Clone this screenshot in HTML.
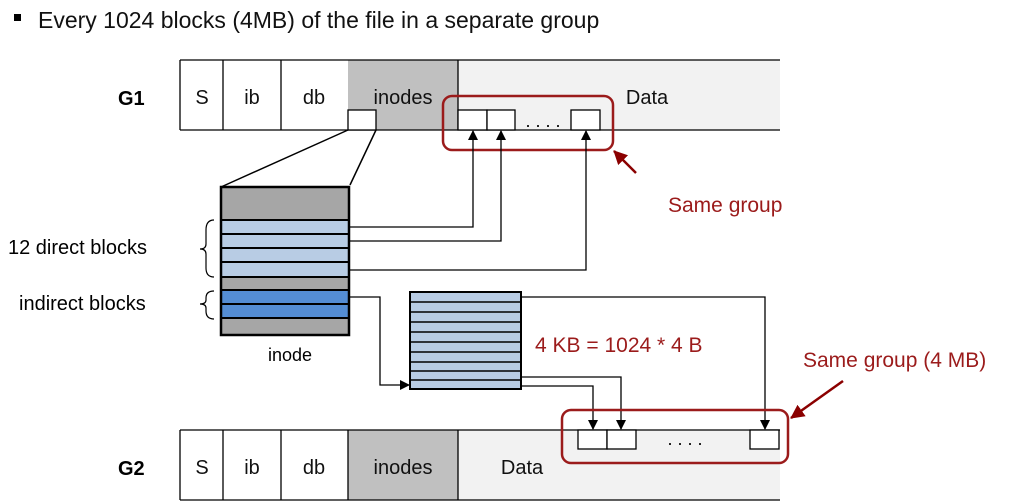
<!DOCTYPE html>
<html><head><meta charset="utf-8"><style>
html,body{margin:0;padding:0;background:#fff;width:1018px;height:503px;overflow:hidden}
svg{display:block}
text{font-family:"Liberation Sans",sans-serif}
</style></head><body>
<svg width="1018" height="503" viewBox="0 0 1018 503" xmlns="http://www.w3.org/2000/svg">
<defs>
<marker id="a" markerWidth="10" markerHeight="10" refX="9" refY="5" orient="auto" markerUnits="userSpaceOnUse"><path d="M0,0 L10,5 L0,10 z" fill="#000"/></marker>
<marker id="r" markerWidth="14" markerHeight="14" refX="13" refY="7" orient="auto" markerUnits="userSpaceOnUse"><path d="M0,0 L14,7 L0,14 z" fill="#8b0000"/></marker>
</defs>
<rect x="14" y="14" width="7" height="7" fill="#000"/>
<text x="38" y="28" font-size="23" fill="#111">Every 1024 blocks (4MB) of the file in a separate group</text>

<!-- G1 -->
<text x="118" y="105" font-size="20" font-weight="bold">G1</text>
<rect x="348" y="60" width="110" height="70" fill="#c0c0c0"/>
<rect x="458" y="60" width="322" height="70" fill="#f2f2f2"/>
<g stroke="#000" stroke-width="1.3" fill="none">
<line x1="180" y1="60" x2="780" y2="60"/><line x1="180" y1="130" x2="780" y2="130"/>
<line x1="180" y1="60" x2="180" y2="130"/><line x1="223" y1="60" x2="223" y2="130"/>
<line x1="281" y1="60" x2="281" y2="130"/><line x1="458" y1="60" x2="458" y2="130"/>
<rect x="348" y="110" width="28" height="20" fill="#fff"/>
<rect x="458" y="110" width="29" height="20" fill="#fff"/>
<rect x="487" y="110" width="28" height="20" fill="#fff"/>
<rect x="571" y="110" width="29" height="20" fill="#fff"/>
</g>
<g font-size="20" fill="#111" text-anchor="middle">
<text x="202" y="104">S</text><text x="252" y="104">ib</text><text x="314" y="104">db</text>
<text x="403" y="104">inodes</text><text x="647" y="104">Data</text>
</g>
<text x="543" y="127" font-size="18" text-anchor="middle">. . . .</text>
<rect x="443" y="96" width="170" height="54" rx="9" fill="none" stroke="#9b1b1b" stroke-width="2.5"/>

<!-- inode -->
<g stroke="#000" stroke-width="1.5">
<line x1="221" y1="187" x2="348" y2="130"/><line x1="350" y1="185" x2="376" y2="130"/>
</g>
<rect x="221" y="187" width="128" height="148" fill="#a6a6a6"/>
<g fill="#b8cce4" stroke="#000" stroke-width="2">
<rect x="221" y="220" width="128" height="14"/><rect x="221" y="234" width="128" height="14"/>
<rect x="221" y="248" width="128" height="14"/><rect x="221" y="262" width="128" height="15"/>
</g>
<g fill="#548dd4" stroke="#000" stroke-width="2">
<rect x="221" y="290" width="128" height="14"/><rect x="221" y="304" width="128" height="14"/>
</g>
<rect x="221" y="187" width="128" height="148" fill="none" stroke="#000" stroke-width="2.5"/>
<text x="290" y="361" font-size="18" text-anchor="middle">inode</text>
<text x="8" y="254" font-size="20">12 direct blocks</text>
<text x="19" y="310" font-size="20">indirect blocks</text>
<path d="M214,220 Q206,220 206,230 L206,244 Q206,249 200,249 Q206,249 206,254 L206,268 Q206,277 214,277" fill="none" stroke="#000" stroke-width="1.2"/>
<path d="M214,291 Q206,291 206,298 L206,300 Q206,304 200,304 Q206,304 206,308 L206,311 Q206,319 214,319" fill="none" stroke="#000" stroke-width="1.2"/>

<!-- connectors -->
<g stroke="#000" stroke-width="1.3" fill="none">
<polyline points="349,227 473,227 473,131" marker-end="url(#a)"/>
<polyline points="349,241 501,241 501,131" marker-end="url(#a)"/>
<polyline points="349,270 586,270 586,131" marker-end="url(#a)"/>
<polyline points="349,297 380,297 380,385 409,385" marker-end="url(#a)"/>
<polyline points="521,297 765,297 765,429" marker-end="url(#a)"/>
<polyline points="521,377 621,377 621,429" marker-end="url(#a)"/>
<polyline points="521,386 593,386 593,429" marker-end="url(#a)"/>
</g>

<!-- indirect block -->
<rect x="410" y="292" width="111" height="97" fill="#b8cce4" stroke="#000" stroke-width="2"/>
<g stroke="#000" stroke-width="1.5">
<line x1="410" y1="302" x2="521" y2="302"/><line x1="410" y1="312" x2="521" y2="312"/>
<line x1="410" y1="322" x2="521" y2="322"/><line x1="410" y1="332" x2="521" y2="332"/>
<line x1="410" y1="342" x2="521" y2="342"/><line x1="410" y1="352" x2="521" y2="352"/>
<line x1="410" y1="362" x2="521" y2="362"/><line x1="410" y1="371" x2="521" y2="371"/>
<line x1="410" y1="380" x2="521" y2="380"/>
</g>
<text x="535" y="352" font-size="21" fill="#9b1b1b">4 KB = 1024 * 4 B</text>

<!-- G2 -->
<text x="118" y="475" font-size="20" font-weight="bold">G2</text>
<rect x="348" y="430" width="110" height="70" fill="#c0c0c0"/>
<rect x="458" y="430" width="322" height="70" fill="#f2f2f2"/>
<g stroke="#000" stroke-width="1.3" fill="none">
<line x1="180" y1="430" x2="780" y2="430"/><line x1="180" y1="500" x2="780" y2="500"/>
<line x1="180" y1="430" x2="180" y2="500"/><line x1="223" y1="430" x2="223" y2="500"/>
<line x1="281" y1="430" x2="281" y2="500"/><line x1="348" y1="430" x2="348" y2="500"/>
<line x1="458" y1="430" x2="458" y2="500"/>
<rect x="578" y="430" width="29" height="19" fill="#fff"/>
<rect x="607" y="430" width="29" height="19" fill="#fff"/>
<rect x="750" y="430" width="29" height="19" fill="#fff"/>
</g>
<g font-size="20" fill="#111" text-anchor="middle">
<text x="202" y="474">S</text><text x="252" y="474">ib</text><text x="314" y="474">db</text>
<text x="403" y="474">inodes</text><text x="522" y="474">Data</text>
</g>
<text x="685" y="445" font-size="18" text-anchor="middle">. . . .</text>
<rect x="562" y="410" width="226" height="53" rx="9" fill="none" stroke="#9b1b1b" stroke-width="2.5"/>

<!-- red annotations -->
<line x1="636" y1="173" x2="614" y2="151" stroke="#8b0000" stroke-width="2.5" marker-end="url(#r)"/>
<text x="668" y="212" font-size="21" fill="#9b1b1b">Same group</text>
<line x1="843" y1="381" x2="791" y2="418" stroke="#8b0000" stroke-width="2.5" marker-end="url(#r)"/>
<text x="803" y="367" font-size="21" fill="#9b1b1b">Same group (4 MB)</text>
</svg>
</body></html>
